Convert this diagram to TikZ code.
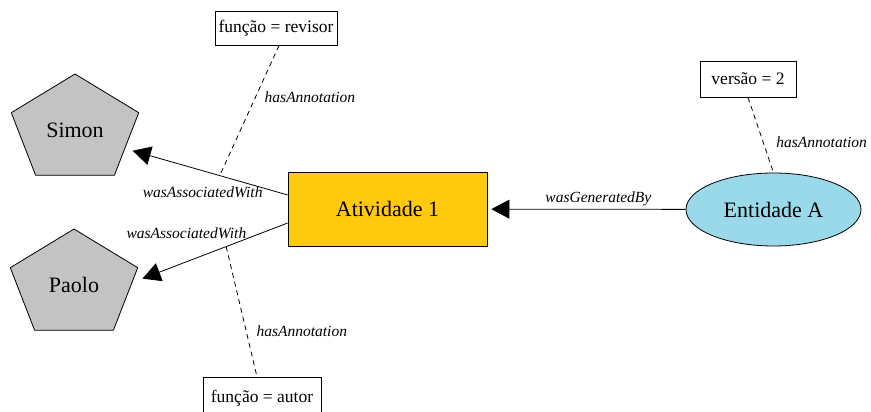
\documentclass[tikz,border=0pt]{standalone}
\usepackage{fontspec}
\setmainfont{Liberation Serif}
\usetikzlibrary{shapes.geometric}
\usetikzlibrary{arrows.meta, positioning}
\definecolor{activityGold}{RGB}{255, 201, 14}
\definecolor{entityBlue}{RGB}{153, 217, 234}
\definecolor{agentGray}{RGB}{195, 195, 195}
\tikzset{
    agent/.style={ellipse, minimum width=120pt, minimum height=96pt, inner sep=0pt, font=\fontsize{22}{26}\selectfont},
    agentshape/.style={fill=agentGray, draw=black, line width=0.8pt},
    activity/.style={rectangle, fill=activityGold, draw=black, line width=0.8pt, minimum width=199pt, minimum height=74pt, font=\fontsize{22}{26}\selectfont},
    entity/.style={ellipse, fill=entityBlue, draw=black, line width=0.8pt, minimum width=175pt, minimum height=73pt, inner sep=0pt, font=\fontsize{22}{26}\selectfont},
    annot/.style={rectangle, draw=black, fill=white, line width=0.8pt, inner sep=0pt, font=\fontsize{17.5}{20}\selectfont},
    relation/.style={line width=0.8pt, -{Triangle[length=18pt, width=19pt]}},
    annotlink/.style={line width=0.8pt, dash pattern=on 5pt off 4pt},
    edgelabel/.style={font=\fontsize{15.5}{18}\selectfont\itshape, inner sep=1pt}
}
% pentagon for the agents, squeezed a little in height
\def\pentagon#1{\filldraw[agentshape, shift={(#1)}] (90:67 and 56) -- (162:67 and 56) -- (234:67 and 56) -- (306:67 and 56) -- (18:67 and 56) -- cycle;}

\begin{document}
\begin{tikzpicture}[x=1pt, y=1pt]
    \useasboundingbox (0,0) rectangle (871,412);

    % Agents
    \pentagon{75,282}
    \node[agent] (simon) at (75,282) {Simon};
    \pentagon{74,127}
    \node[agent] (paolo) at (74,127) {Paolo};

    % Activity and entity
    \node[activity] (atividade) at (387.5,203) {Atividade 1};
    \node[entity] (entidade) at (773.5,202.5) {Entidade A};

    % Annotations
    \node[annot, minimum width=122pt, minimum height=34pt] (revisor) at (276,384) {função = revisor};
    \node[annot, minimum width=118pt, minimum height=42pt] (autor) at (262,14) {função = autor};
    \node[annot, minimum width=96pt, minimum height=36pt] (versao) at (748,333) {versão = 2};

    % Relations
    \draw[relation, shorten >=3pt] (atividade.172) -- coordinate[pos=0.43] (simonmid)
        node[edgelabel, pos=0.15, anchor=north east, yshift=3pt] (assocsimon) {wasAssociatedWith} (simon.-20);
    \draw[relation, shorten >=9pt] (atividade.188) -- coordinate[pos=0.4] (paolomid)
        node[edgelabel, pos=0.26, anchor=south east, yshift=-2pt] (assocpaolo) {wasAssociatedWith} (paolo.3);
    \draw[relation, shorten >=4pt] (entidade) -- node[edgelabel, pos=0.44, above=2pt] (generated) {wasGeneratedBy} (atividade);

    % Annotation links
    \draw[annotlink] (revisor.280) -- node[edgelabel, pos=0.4, right=8pt] (annrevisor) {hasAnnotation} (simonmid);
    \draw[annotlink] (paolomid) -- node[edgelabel, pos=0.65, right=9pt] (annautor) {hasAnnotation} (autor);
    \draw[annotlink] (versao.south) -- node[edgelabel, pos=0.59, right=12pt] (annversao) {hasAnnotation} (entidade.north);
\end{tikzpicture}
\end{document}
